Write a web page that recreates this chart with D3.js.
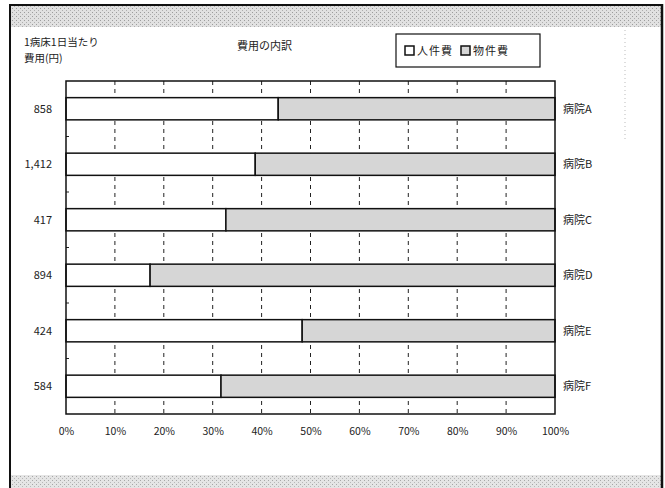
<!DOCTYPE html>
<html>
<head>
<meta charset="utf-8">
<script src="https://cdn.jsdelivr.net/npm/d3@7"></script>
<style>
  body { margin: 0; background: #fff; }
  svg text { font-family: "Noto Sans CJK JP", "Noto Sans", sans-serif; fill: #222; }
</style>
</head>
<body>
<div id="chart"></div>
<script>
// data
const hospitals = ['病院A', '病院B', '病院C', '病院D', '病院E', '病院F'];
const costPerBed = ['858', '1,412', '417', '894', '424', '584'];
const personnelShare = [43.4, 38.7, 32.7, 17.2, 48.3, 31.7];   // 人件費 %
const seriesNames = ['人件費', '物件費'];
const xTicks = [0, 10, 20, 30, 40, 50, 60, 70, 80, 90, 100];

const W = 665, H = 488;
const plot = {left: 66, right: 555, top: 81, bottom: 414};

const svg = d3.select('#chart').append('svg')
  .attr('width', W).attr('height', H);

// speckled grey bands like the scan
const defs = svg.append('defs');
const pat = defs.append('pattern')
  .attr('id', 'stipple').attr('width', 4).attr('height', 4)
  .attr('patternUnits', 'userSpaceOnUse');
pat.append('rect').attr('width', 4).attr('height', 4).attr('fill', '#dcdcdc');
pat.append('rect').attr('x', 0).attr('y', 0).attr('width', 1).attr('height', 1).attr('fill', '#8a8a8a');
pat.append('rect').attr('x', 2).attr('y', 2).attr('width', 1).attr('height', 1).attr('fill', '#a0a0a0');

svg.append('rect').attr('x', 10).attr('y', 6).attr('width', 651).attr('height', 21)
  .attr('fill', 'url(#stipple)').attr('opacity', 0.85);
svg.append('rect').attr('x', 10).attr('y', 475).attr('width', 651).attr('height', 13)
  .attr('fill', 'url(#stipple)').attr('opacity', 0.75);

// frame
svg.append('line').attr('x1', 9).attr('x2', 663).attr('y1', 5).attr('y2', 5)
  .attr('stroke', '#111').attr('stroke-width', 2);
svg.append('line').attr('x1', 10).attr('x2', 10).attr('y1', 4).attr('y2', 488)
  .attr('stroke', '#111').attr('stroke-width', 2);
svg.append('line').attr('x1', 662).attr('x2', 662).attr('y1', 4).attr('y2', 488)
  .attr('stroke', '#111').attr('stroke-width', 2.5);
svg.append('line').attr('x1', 625).attr('x2', 625).attr('y1', 30).attr('y2', 140)
  .attr('stroke', '#bbb').attr('stroke-width', 1).attr('stroke-dasharray', '1,3');

// scales
const x = d3.scaleLinear().domain([0, 100]).range([plot.left, plot.right]);
const y = d3.scaleBand().domain(hospitals)
  .range([plot.top, plot.bottom]).paddingInner(0.6).paddingOuter(0.3);

// dashed grid
svg.append('g').selectAll('line')
  .data(xTicks.filter(d => d > 0 && d < 100))
  .join('line')
  .attr('x1', d => x(d)).attr('x2', d => x(d))
  .attr('y1', plot.top).attr('y2', plot.bottom)
  .attr('stroke', '#222').attr('stroke-width', 1)
  .attr('stroke-dasharray', '4,4');

// small category ticks on left axis
svg.append('g').selectAll('line')
  .data(hospitals.slice(1))
  .join('line')
  .attr('x1', plot.left).attr('x2', plot.left + 3)
  .attr('y1', d => y(d) - y.step() * y.paddingInner() / 2)
  .attr('y2', d => y(d) - y.step() * y.paddingInner() / 2)
  .attr('stroke', '#222');

// bars
const rows = hospitals.map((h, i) => ({h, v: personnelShare[i], c: costPerBed[i]}));
const bars = svg.append('g').selectAll('g').data(rows).join('g');
bars.append('rect')
  .attr('x', x(0)).attr('y', d => y(d.h))
  .attr('width', d => x(d.v) - x(0)).attr('height', y.bandwidth())
  .attr('fill', '#fff').attr('stroke', '#111').attr('stroke-width', 1.5);
bars.append('rect')
  .attr('x', d => x(d.v)).attr('y', d => y(d.h))
  .attr('width', d => x(100) - x(d.v)).attr('height', y.bandwidth())
  .attr('fill', '#d6d6d6').attr('stroke', '#111').attr('stroke-width', 1.5);

// plot border
svg.append('rect')
  .attr('x', plot.left).attr('y', plot.top)
  .attr('width', plot.right - plot.left).attr('height', plot.bottom - plot.top)
  .attr('fill', 'none').attr('stroke', '#111').attr('stroke-width', 1.5);

// left values & right names
bars.append('text')
  .attr('x', 52).attr('y', d => y(d.h) + y.bandwidth() / 2 + 4)
  .attr('text-anchor', 'end').attr('font-size', 11)
  .text(d => d.c);
bars.append('text')
  .attr('x', 563).attr('y', d => y(d.h) + y.bandwidth() / 2 + 4)
  .attr('font-size', 11)
  .text(d => d.h);

// x axis labels
const xAxis = d3.axisBottom(x).tickValues(xTicks).tickSize(0)
  .tickFormat(d => d + '%').tickPadding(14);
const xg = svg.append('g').attr('transform', `translate(0,${plot.bottom})`).call(xAxis);
xg.select('.domain').remove();
xg.selectAll('text').attr('font-size', 10.5)
  .attr('font-family', '"Noto Sans CJK JP", sans-serif').attr('fill', '#222');

// header texts
svg.append('text').attr('x', 24).attr('y', 46).attr('font-size', 10.5).text('1病床1日当たり');
svg.append('text').attr('x', 24).attr('y', 62).attr('font-size', 10.5).text('費用(円)');
svg.append('text').attr('x', 237).attr('y', 50).attr('font-size', 11).text('費用の内訳');

// legend
const lg = svg.append('g');
lg.append('rect').attr('x', 396).attr('y', 34).attr('width', 144).attr('height', 33)
  .attr('fill', '#fff').attr('stroke', '#111').attr('stroke-width', 1.2);
const legendX = [405, 461];
seriesNames.forEach((s, i) => {
  lg.append('rect').attr('x', legendX[i]).attr('y', 46).attr('width', 9).attr('height', 9)
    .attr('fill', i === 0 ? '#fff' : '#d6d6d6').attr('stroke', '#111').attr('stroke-width', 1.5);
  lg.append('text').attr('x', legendX[i] + 12).attr('y', 55).attr('font-size', 11)
    .attr('letter-spacing', 1).text(s);
});
</script>
</body>
</html>
